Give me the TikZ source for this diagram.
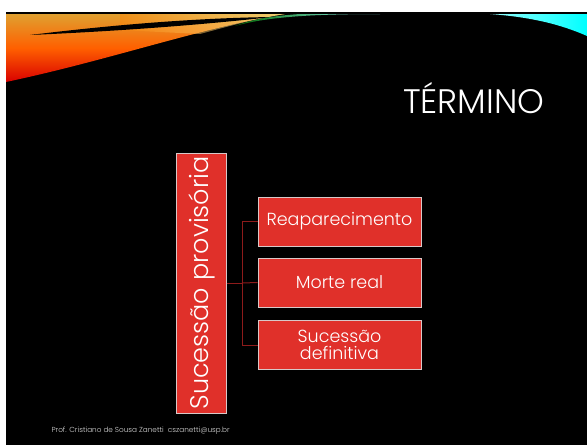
\documentclass[tikz,border=0pt]{standalone}
\usepackage{fontspec}
\setmainfont{Poppins Light}
\usepackage{tikz}
\tikzset{>=latex}
\definecolor{boxred}{HTML}{E0302A}
\definecolor{linkred}{HTML}{8E1B1B}
\definecolor{boxrim}{HTML}{D8C8C8}
\definecolor{gold}{HTML}{E0A030}
\tikzset{
  itembox/.style={draw=boxrim, line width=0.8, fill=boxred, text=white, minimum width=163, minimum height=49, align=center, inner sep=0, font=\fontsize{17.5}{18}\selectfont},
  link/.style={draw=linkred, line width=1}
}

\begin{document}
\begin{tikzpicture}[x=1pt,y=-1pt]

\useasboundingbox (0,0) rectangle (587,445);
\fill[white] (0,0) rectangle (587,445);
\fill[black] (6,12) rectangle (587,445);

% swoosh at the top
\shade[top color=gold, bottom color=red!85!black, middle color=orange!75!red] (6,14) -- (285,14) .. controls (200,28) and (110,60) .. (6,82) -- cycle;
\shade[left color=orange!80!gold, right color=yellow!30!white, opacity=0.5] (120,14) -- (285,14) .. controls (250,20) and (230,26) .. (200,34) -- (120,30) -- cycle;
\fill[black] (30,35) .. controls (120,24) and (200,18) .. (272,17) .. controls (200,25) and (120,31) .. (30,35) -- cycle;
\shade[left color=green!40!black, right color=cyan!40!white] (235,26) .. controls (270,16) and (320,14) .. (380,14) -- (300,14) .. controls (270,16) and (250,20) .. (235,26) -- cycle;
\shade[left color=cyan!40!white, right color=cyan] (490,14) -- (587,14) -- (587,36) .. controls (560,24) and (530,17) .. (490,14) -- cycle;

\node[text=white, font=\fontsize{34}{36}\selectfont, anchor=base east] (title) at (548,113) {TÉRMINO};

\node[itembox, minimum width=260, minimum height=50, rotate=90, font=\fontsize{25.5}{28}\selectfont] (main) at (201.5,283) {Sucessão provisória};

\node[itembox] (reap) at (339.5,221.5) {Reaparecimento};
\node[itembox] (morte) at (339.5,282.5) {Morte real};
\node[itembox, font=\fontsize{17.5}{17}\selectfont] (defin) at (339.5,345) {Sucessão\\definitiva};

\coordinate (fork) at (242,283);
\draw[link] (main.south |- fork) -- (fork);
\draw[link] (fork |- reap.west) -- (fork |- defin.west);
\draw[link] (fork |- reap.west) -- (reap.west);
\draw[link] (fork) -- (morte.west);
\draw[link] (fork |- defin.west) -- (defin.west);

\node[text=white!85!black, font=\fontsize{7.3}{8}\selectfont, anchor=west] (foot) at (48,431) {Prof. Cristiano de Sousa Zanetti\ \ cszanetti@usp.br};

\end{tikzpicture}
\end{document}
